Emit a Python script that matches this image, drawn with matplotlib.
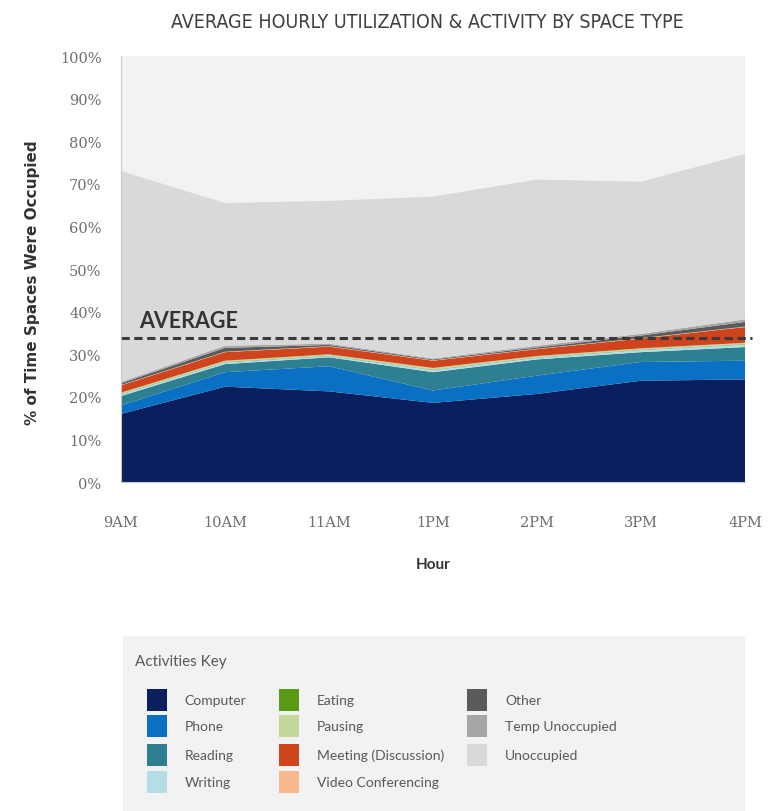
import matplotlib.pyplot as plt
from matplotlib.patches import Rectangle

# dados (% do tempo)
horas = ['9AM', '10AM', '11AM', '1PM', '2PM', '3PM', '4PM']
computer = [16.0, 22.4, 21.3, 18.6, 20.7, 23.8, 24.1]
phone = [2.0, 3.4, 5.9, 2.9, 4.3, 4.4, 4.4]
reading = [2.2, 1.9, 2.1, 4.3, 3.8, 2.3, 3.2]
writing = [0.4, 0.4, 0.3, 0.5, 0.4, 0.5, 0.6]
eating = [0.1, 0.1, 0.1, 0.1, 0.1, 0.1, 0.1]
pausing = [0.3, 0.3, 0.3, 0.4, 0.3, 0.3, 0.3]
meeting = [1.7, 2.0, 1.8, 1.7, 1.6, 2.3, 3.7]
video = [0.1, 0.1, 0.1, 0.1, 0.1, 0.1, 0.1]
other = [0.4, 0.9, 0.3, 0.2, 0.3, 0.6, 1.1]
temp_unocc = [0.3, 0.5, 0.3, 0.2, 0.4, 0.4, 0.6]
unoccupied = [49.5, 33.5, 33.5, 38.0, 39.0, 35.7, 38.8]
media = 33.8

nomes = ['Computer', 'Phone', 'Reading', 'Writing', 'Eating', 'Pausing',
         'Meeting (Discussion)', 'Video Conferencing', 'Other',
         'Temp Unoccupied', 'Unoccupied']
cores = ['#0b1f5e', '#0a70c4', '#2f7f92', '#b5dde8', '#5a9a14', '#c5d89c',
         '#cf431d', '#f7b98c', '#5a5a5a', '#a6a6a6', '#d9d9d9']
series = [computer, phone, reading, writing, eating, pausing, meeting,
          video, other, temp_unocc, unoccupied]

fonte = 'Lato'
cinza = '#595959'

fig = plt.figure(figsize=(7.77, 8.12), dpi=100)
ax = fig.add_axes([0.1557, 0.405, 0.8031, 0.5248])
ax.set_facecolor('#f2f2f2')

x = list(range(len(horas)))
ax.stackplot(x, *series, colors=cores, linewidth=0)

# linha da média
ax.plot([0, 1.012], [media, media], transform=ax.get_yaxis_transform(),
        color='#3a3a3a', linestyle=(0, (2.7, 1.5)), linewidth=2.2,
        clip_on=False)
ax.text(0.17, media + 2.5, 'AVERAGE', fontsize=15.5, fontweight='bold',
        color='#333333', family=fonte)

ax.set_xlim(0, len(horas) - 1)
ax.set_ylim(0, 100)
ax.set_xticks(x)
ax.set_xticklabels(horas, family='DejaVu Serif', fontsize=10.5,
                   color='#6e6e6e')
ax.set_yticks(range(0, 101, 10))
ax.set_yticklabels([f'{v}%' for v in range(0, 101, 10)],
                   family='DejaVu Serif', fontsize=10.5, color='#6e6e6e')
ax.tick_params(axis='x', length=0, pad=24)
ax.tick_params(axis='y', length=0, pad=14)
for lado in ['top', 'right']:
    ax.spines[lado].set_visible(False)
for lado in ['left', 'bottom']:
    ax.spines[lado].set_color('#c8c8c8')
    ax.spines[lado].set_linewidth(0.8)

ax.set_xlabel('Hour', family=fonte, fontsize=11, fontweight='bold',
              color='#333333', labelpad=20)
ax.set_ylabel('% of Time Spaces Were Occupied', family='DejaVu Sans',
              fontsize=11, fontweight='bold', color='#333333')
ax.yaxis.set_label_coords(-0.13, 0.47)

titulo = fig.text(0.55, 0.972,
                  'AVERAGE HOURLY UTILIZATION & ACTIVITY BY SPACE TYPE',
                  ha='center', va='center', fontsize=16, color='#404040',
                  family='DejaVu Sans', fontstretch='condensed')
# ajustar o tamanho do título à largura do original
fig.canvas.draw()
largura = titulo.get_window_extent().width
titulo.set_fontsize(16 * 515 / largura)

# caixa da legenda
leg = fig.add_axes([0.158, 0.0, 0.801, 0.2155])
leg.set_facecolor('#f2f2f2')
leg.set_xlim(0, 622)
leg.set_ylim(175, 0)
leg.set_xticks([])
leg.set_yticks([])
for s in leg.spines.values():
    s.set_visible(False)
leg.text(12, 25, 'Activities Key', fontsize=11, color=cinza, family=fonte,
         va='center')
col_x = [24, 156, 344]
linha_y = [64, 90, 119, 146]
for i, (nome, cor) in enumerate(zip(nomes, cores)):
    if i < 4:
        c, r = 0, i
    elif i < 8:
        c, r = 1, i - 4
    else:
        c, r = 2, i - 8
    leg.add_patch(Rectangle((col_x[c], linha_y[r] - 11), 20, 22,
                            facecolor=cor, edgecolor='none'))
    leg.text(col_x[c] + 38, linha_y[r], nome, fontsize=10, color=cinza,
             family=fonte, va='center')

fig.savefig('out.png', dpi=100)
